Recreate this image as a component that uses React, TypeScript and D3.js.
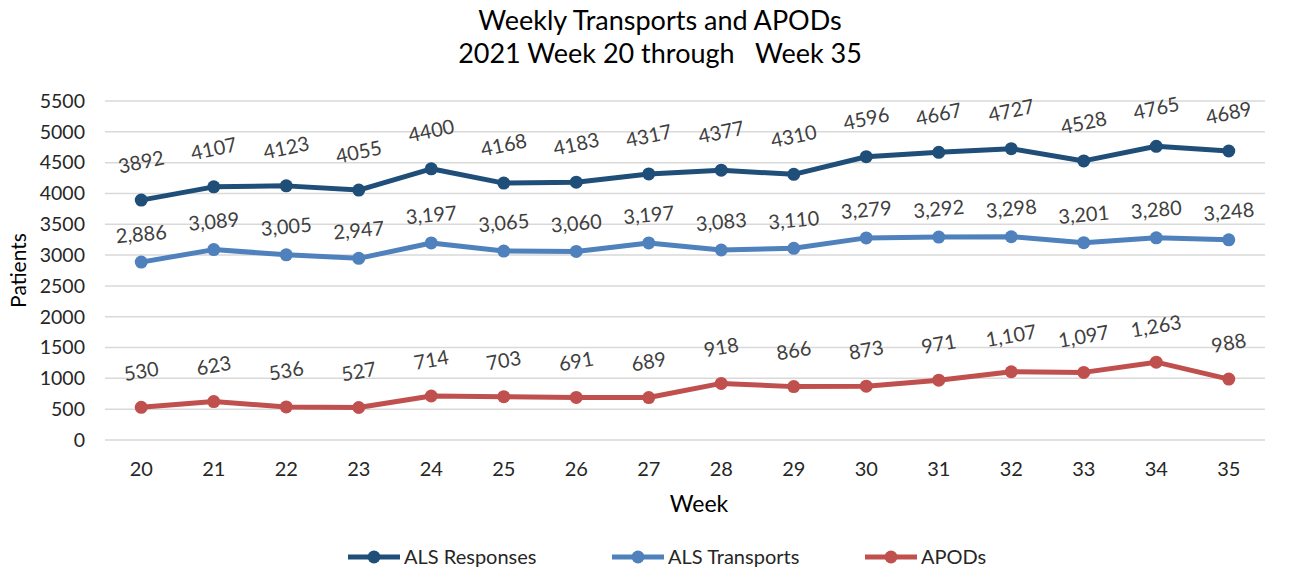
import React from 'react';
import * as d3 from 'd3';

const weeks = [20, 21, 22, 23, 24, 25, 26, 27, 28, 29, 30, 31, 32, 33, 34, 35];
const alsResponses = [3892, 4107, 4123, 4055, 4400, 4168, 4183, 4317, 4377, 4310, 4596, 4667, 4727, 4528, 4765, 4689];
const alsTransports = [2886, 3089, 3005, 2947, 3197, 3065, 3060, 3197, 3083, 3110, 3279, 3292, 3298, 3201, 3280, 3248];
const apods = [530, 623, 536, 527, 714, 703, 691, 689, 918, 866, 873, 971, 1107, 1097, 1263, 988];
const yTicks = [0, 500, 1000, 1500, 2000, 2500, 3000, 3500, 4000, 4500, 5000, 5500];

// label styling per series (offset above the point, tilt of the data labels)
const series = [
  { name: 'ALS Responses', values: alsResponses, color: '#1F4E79', fmt: (v: number) => String(v), off: 38, tilt: -12 },
  { name: 'ALS Transports', values: alsTransports, color: '#4F81BD', fmt: d3.format(','), off: 28, tilt: -5 },
  { name: 'APODs', values: apods, color: '#C0504D', fmt: d3.format(','), off: 36, tilt: -10 },
];

const FONT = 'Lato, "Open Sans", sans-serif';

export default function App() {
  const width = 1298;
  const height = 570;
  const left = 105;
  const right = 1265;
  const top = 101;
  const bottom = 440;

  const x = d3.scaleBand<number>().domain(weeks).range([left, right]);
  const cx = (w: number) => (x(w) as number) + x.bandwidth() / 2;
  const y = d3.scaleLinear().domain([0, 5500]).range([bottom, top]);

  const line = d3.line<number>()
    .x((_, i) => cx(weeks[i]))
    .y(d => y(d));

  const legendX = [348, 612, 865];

  return (
    <svg width={width} height={height} style={{ position: 'absolute', left: 0, top: 0, background: '#fff' }} fontFamily={FONT}>
      <text x={660} y={30} textAnchor="middle" fontSize={27} fill="#000">Weekly Transports and APODs</text>
      <text x={660} y={63} textAnchor="middle" fontSize={27} fill="#000" style={{ whiteSpace: 'pre' }}>2021 Week 20 through   Week 35</text>

      {yTicks.map(t => (
        <g key={t}>
          <line x1={left} x2={right} y1={y(t)} y2={y(t)} stroke="#d9d9d9" strokeWidth={1.5} />
          <text x={85} y={y(t)} dy="0.35em" textAnchor="end" fontSize={19.5} fill="#262626">{t}</text>
        </g>
      ))}

      {weeks.map(w => (
        <text key={w} x={cx(w)} y={469} dy="0.35em" textAnchor="middle" fontSize={20} fill="#262626">{w}</text>
      ))}

      <text x={699} y={504} dy="0.35em" textAnchor="middle" fontSize={23} fill="#000">Week</text>
      <text transform={`translate(19, ${(top + bottom) / 2}) rotate(-90)`} dy="0.35em" textAnchor="middle" fontSize={21} fill="#000">Patients</text>

      {series.map(s => (
        <g key={s.name}>
          <path d={line(s.values) || ''} fill="none" stroke={s.color} strokeWidth={5} strokeLinejoin="round" />
          {s.values.map((v, i) => (
            <circle key={i} cx={cx(weeks[i])} cy={y(v)} r={6.5} fill={s.color} />
          ))}
          {s.values.map((v, i) => {
            const lx = cx(weeks[i]);
            const ly = y(v) - s.off;
            return (
              <text key={'l' + i} x={lx} y={ly} dy="0.35em" textAnchor="middle" fontSize={20} fill="#404040"
                transform={`rotate(${s.tilt}, ${lx}, ${ly})`}>
                {s.fmt(v)}
              </text>
            );
          })}
        </g>
      ))}

      {series.map((s, i) => (
        <g key={'lg' + s.name} transform={`translate(${legendX[i]}, 557)`}>
          <line x1={0} x2={52} y1={0} y2={0} stroke={s.color} strokeWidth={5} />
          <circle cx={26} cy={0} r={6.5} fill={s.color} />
          <text x={56} y={0} dy="0.35em" fontSize={20} fill="#262626">{s.name}</text>
        </g>
      ))}
    </svg>
  );
}
